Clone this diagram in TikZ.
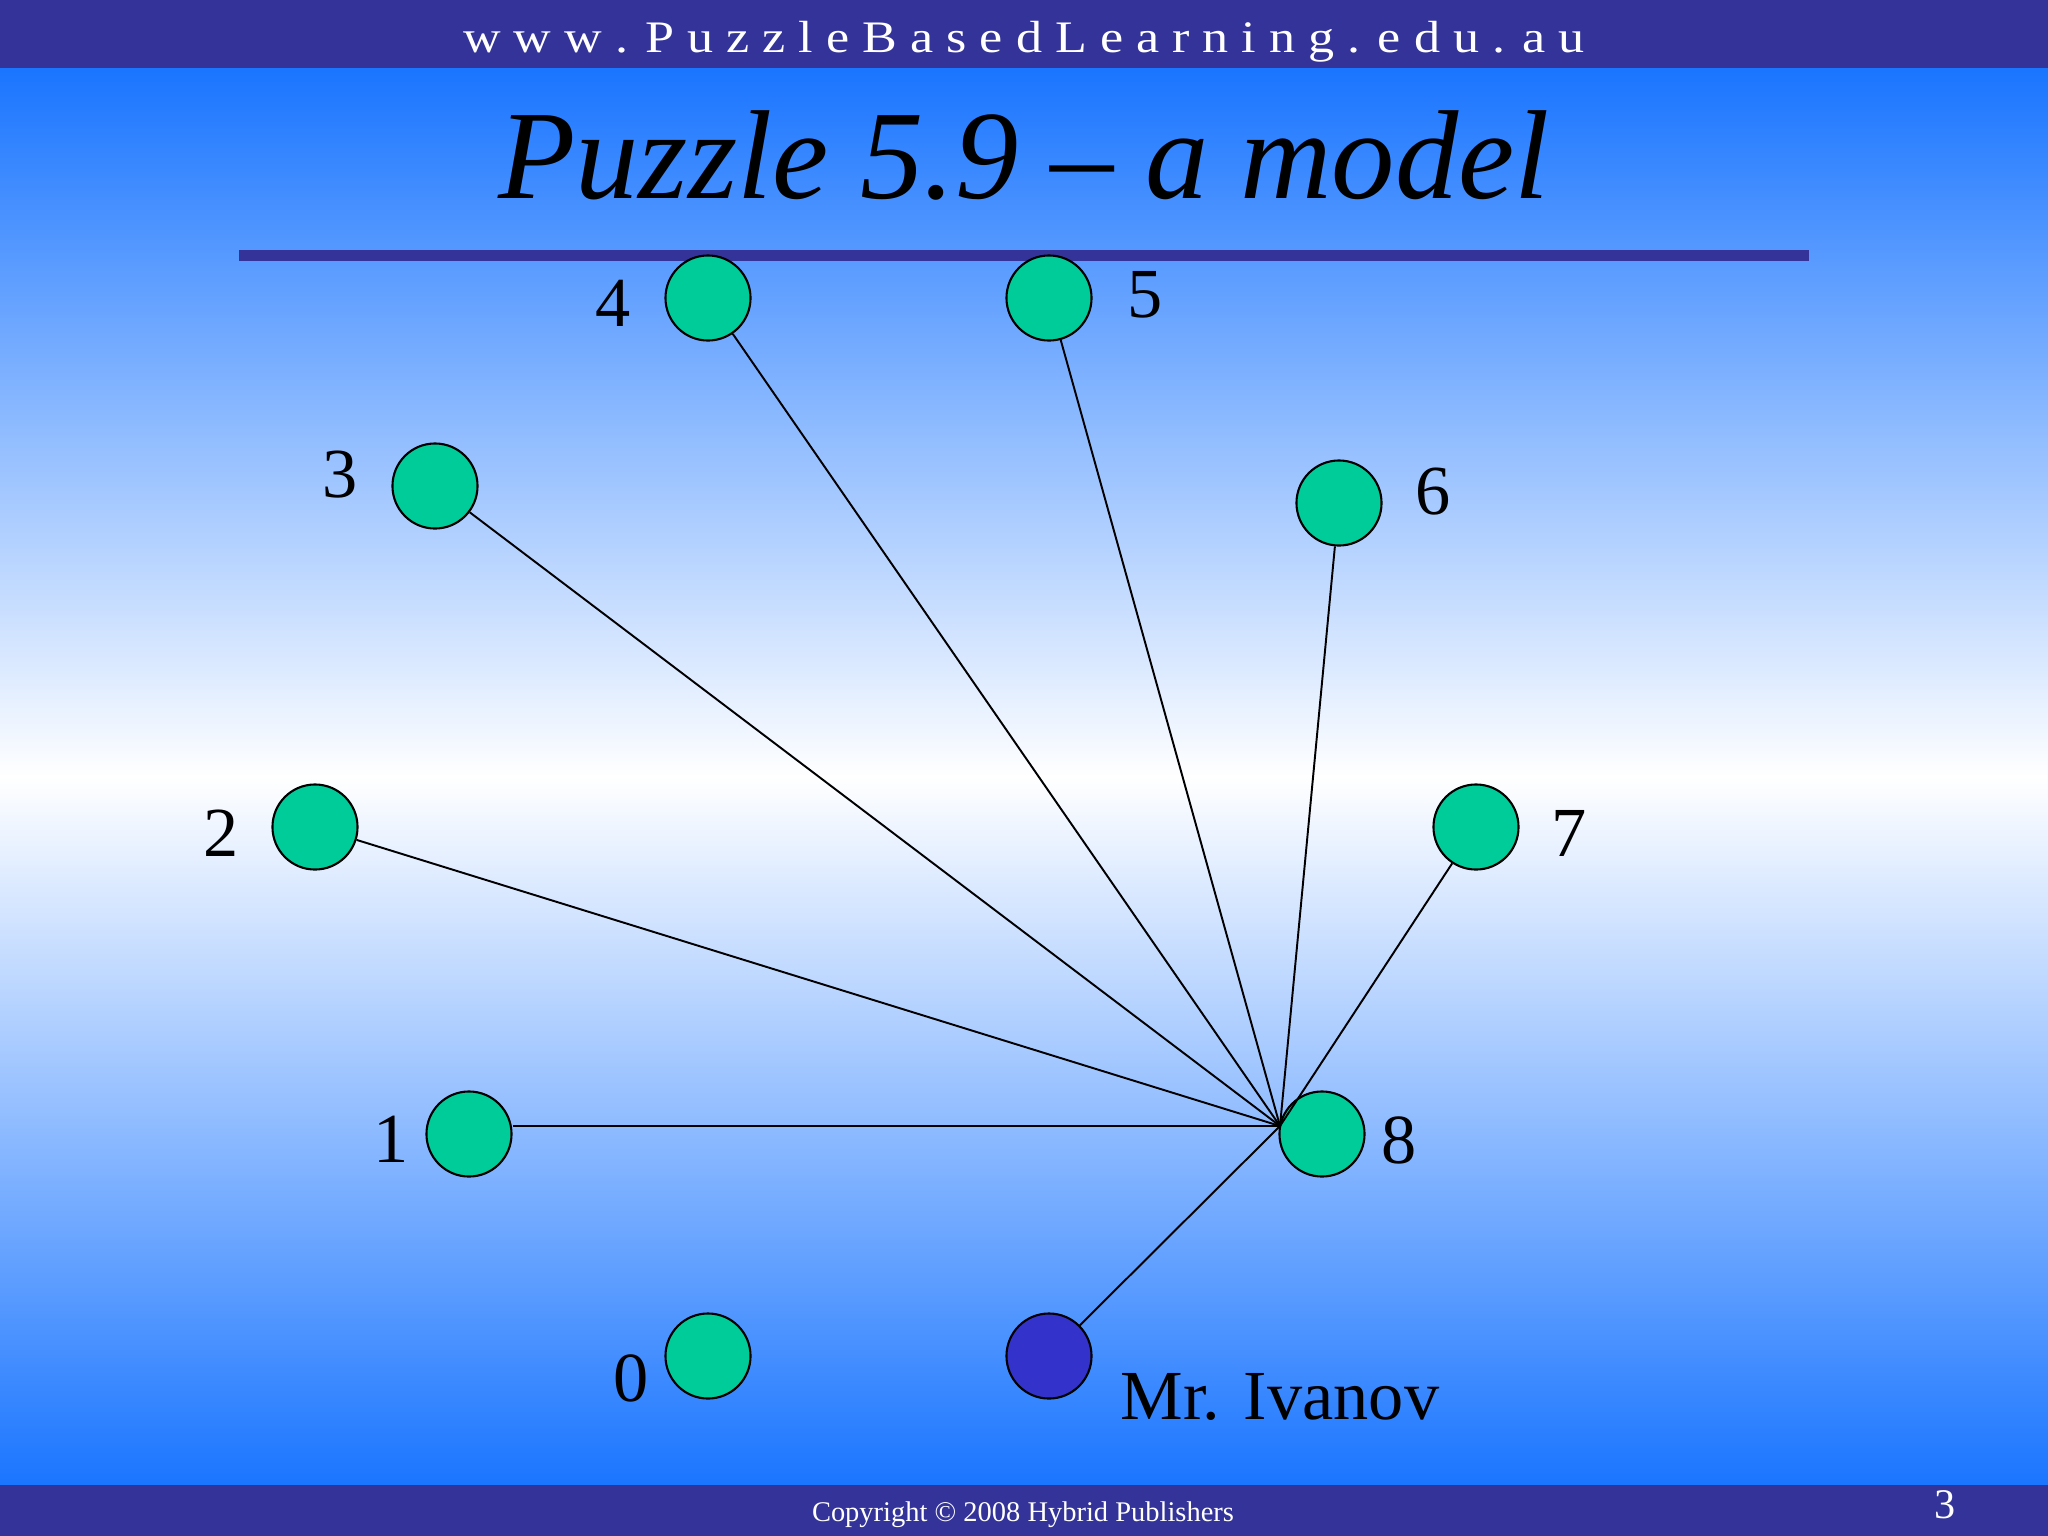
\documentclass[tikz,border=0pt]{standalone}
\usepackage{fontspec}
\setmainfont{Liberation Serif}
\definecolor{barblue}{RGB}{51,51,153}
\definecolor{skyblue}{RGB}{26,117,255}
\definecolor{nodegreen}{RGB}{0,204,153}
\definecolor{ivblue}{RGB}{51,51,204}
\begin{document}
\begin{tikzpicture}[x=0.01cm,y=-0.01cm,
  pnode/.style={circle,draw=black,line width=0.6pt,fill=nodegreen,inner sep=0pt,minimum size=0.85cm},
  inode/.style={pnode,fill=ivblue},
  lbl/.style={font=\fontsize{20}{24}\selectfont,inner sep=0pt,anchor=center},
  edge/.style={line width=0.55pt,draw=black}]
\useasboundingbox (0,0) rectangle (2048,1536);
% background
\shade[top color=skyblue,bottom color=white] (0,68) rectangle (2048,777);
\shade[top color=white,bottom color=skyblue] (0,776) rectangle (2048,1486);
\fill[barblue] (0,0) rectangle (2048,68);
\fill[barblue] (0,1485) rectangle (2048,1536);
\fill[barblue] (239,250) rectangle (1809,261);
% header / footer / title
\node (hdr) [text=white,inner sep=0pt,font=\fontsize{12.2}{15}\selectfont] at (1024,42)
  {\scalebox{1.215}[1.05]{w w w . P u z z l e B a s e d L e a r n i n g . e d u . a u}};
\node (ftr) [text=white,inner sep=0pt,font=\fontsize{8.1}{10}\selectfont] at (1023,1515)
  {Copyright \textcopyright{} 2008 Hybrid Publishers};
\node (pg) [text=white,inner sep=0pt,font=\fontsize{12}{14}\selectfont] at (1945,1505) {3};
\node (title) [anchor=base,inner sep=0pt,font=\fontsize{36}{42}\itshape] at (1024,198)
  {Puzzle 5.9 -- a model};
% nodes
\node (n4) [pnode] at (708,298) {};
\node (n5) [pnode] at (1049,298) {};
\node (n3) [pnode] at (435,486) {};
\node (n6) [pnode] at (1339,503) {};
\node (n2) [pnode] at (315,827) {};
\node (n7) [pnode] at (1476,827) {};
\node (n1) [pnode] at (469,1134) {};
\node (n8) [pnode] at (1322,1134) {};
\node (n0) [pnode] at (708,1356) {};
\node (iv) [inode] at (1049,1356) {};
% labels
\node (l4) [lbl] at (613,303) {4};
\node (l5) [lbl] at (1145,295) {5};
\node (l3) [lbl] at (340,475) {3};
\node (l6) [lbl] at (1433,492) {6};
\node (l2) [lbl] at (221,833) {2};
\node (l7) [lbl] at (1569,833) {7};
\node (l1) [lbl] at (391,1139) {1};
\node (l8) [lbl] at (1399,1140) {8};
\node (l0) [lbl] at (631,1378) {0};
\node (liv) [lbl] at (1280,1397) {Mr. Ivanov};
% connectors
\coordinate (c) at (1280,1126);
\draw[edge] (c) -- (n1.east |- c);
\foreach \n in {n2,n3,n4,n5,n6,n7,iv}
  \draw[edge] (c) -- (\n);
\end{tikzpicture}
\end{document}
